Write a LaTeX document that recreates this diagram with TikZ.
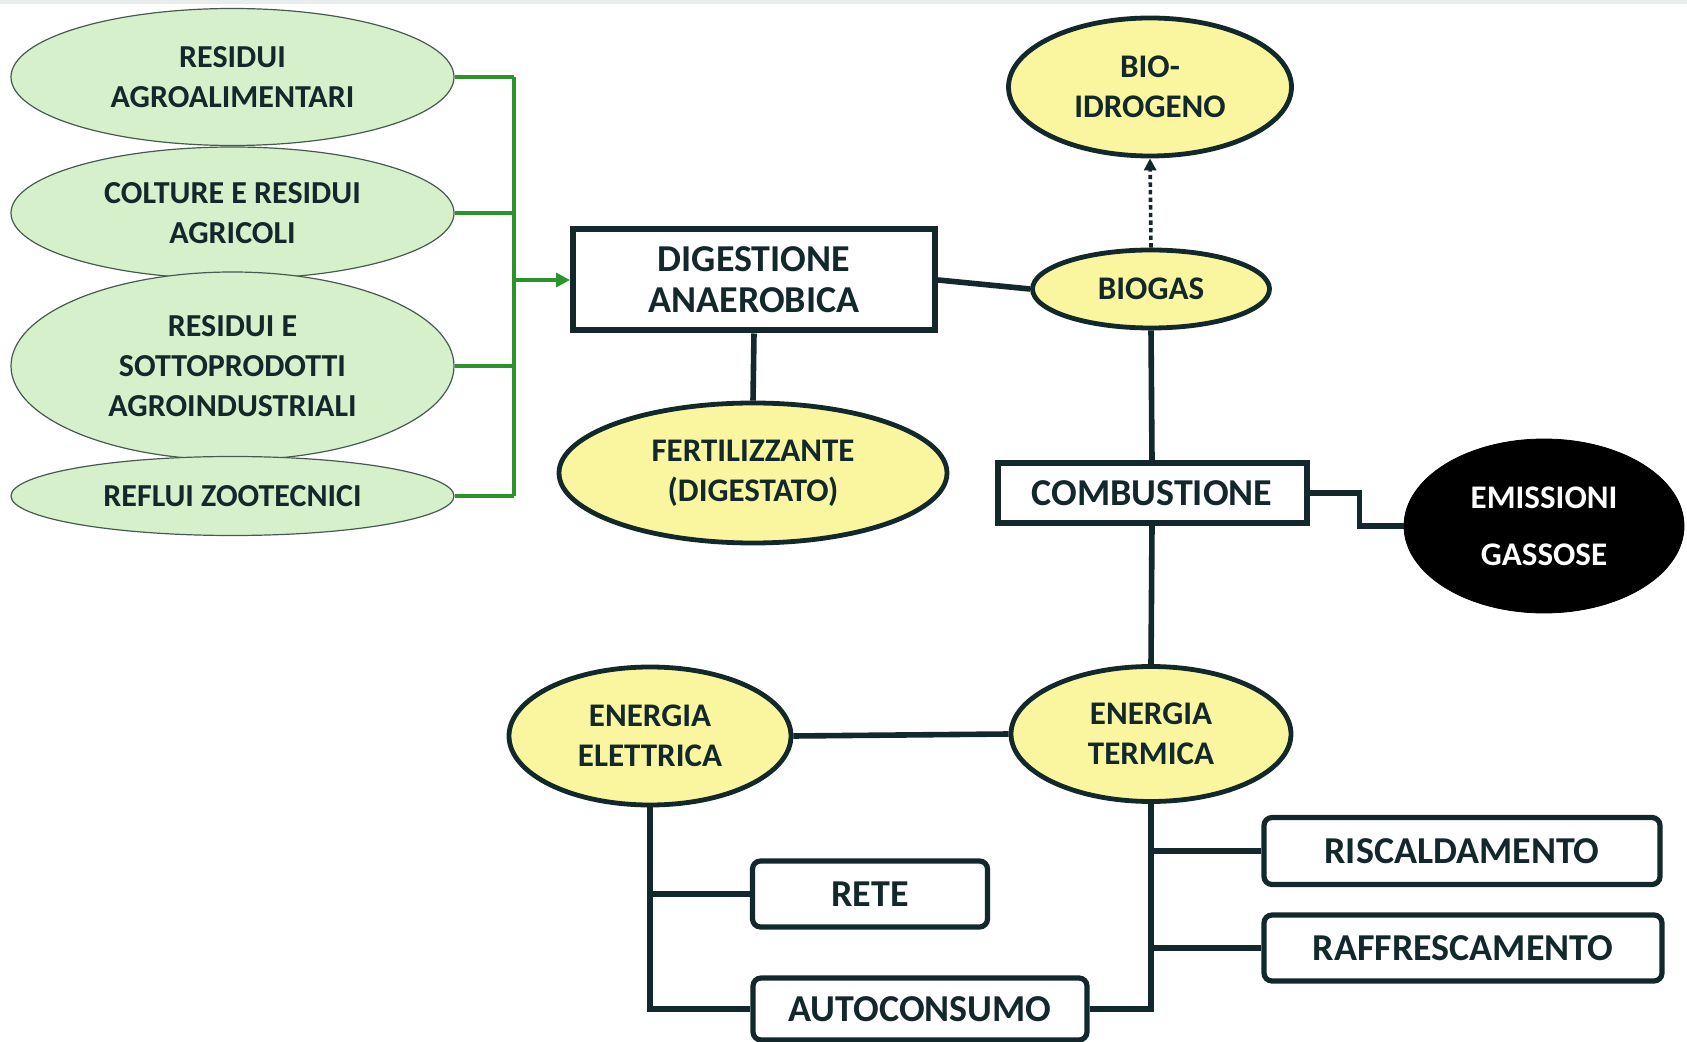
\documentclass[tikz,border=0pt]{standalone}
\usepackage{fontspec}
\setmainfont{Carlito}
\usetikzlibrary{shapes.geometric,arrows.meta}
\definecolor{ink}{RGB}{18,40,42}
\definecolor{yel}{RGB}{250,246,160}
\definecolor{lgreen}{RGB}{214,240,204}
\definecolor{gline}{RGB}{42,150,42}
\definecolor{gedge}{RGB}{70,90,80}
\definecolor{topband}{RGB}{232,236,236}
\begin{document}
\begin{tikzpicture}[x=0.5pt,y=-0.5pt,
  text=ink,
  gell/.style={ellipse, draw=gedge, line width=0.6pt, fill=lgreen, inner sep=0pt, align=center, font=\fontsize{16}{20}\selectfont\bfseries},
  yell/.style={ellipse, draw=ink, line width=2.4pt, fill=yel, inner sep=0pt, align=center, font=\fontsize{16.5}{20}\selectfont\bfseries},
  sqbox/.style={rectangle, draw=ink, line width=3pt, fill=white, inner sep=0pt, align=center, font=\fontsize{19}{20.5}\selectfont\bfseries},
  rbox/.style={rectangle, rounded corners=4pt, draw=ink, line width=2.6pt, fill=white, inner sep=0pt, font=\fontsize{19}{20}\selectfont\bfseries},
  conn/.style={draw=ink, line width=2.8pt},
  gconn/.style={draw=gline, line width=1.9pt},
]
\useasboundingbox (0,0) rectangle (1687,1042);
\fill[topband] (0,0) rectangle (1687,4);

% green source ellipses
\node[gell, minimum width=221.5pt, minimum height=68.5pt] (g1) at (232.5,77) {RESIDUI\\AGROALIMENTARI};
\node[gell, minimum width=221.5pt, minimum height=66pt] (g2) at (232.5,213) {COLTURE E RESIDUI\\AGRICOLI};
\node[gell, minimum width=221.5pt, minimum height=94pt] (g3) at (232.5,366) {RESIDUI E\\SOTTOPRODOTTI\\AGROINDUSTRIALI};
\node[gell, minimum width=221.5pt, minimum height=39.5pt] (g4) at (232.5,496) {REFLUI ZOOTECNICI};

% main nodes
\node[sqbox, minimum width=181pt, minimum height=50.5pt] (dig) at (754,280) {DIGESTIONE\\ANAEROBICA};
\node[yell, minimum width=194pt, minimum height=70pt] (fert) at (753,473) {FERTILIZZANTE\\(DIGESTATO)};
\node[yell, minimum width=118.5pt, minimum height=39pt] (bio) at (1151,289) {BIOGAS};
\node[yell, minimum width=141.5pt, minimum height=69pt] (h2) at (1150,87) {BIO-\\IDROGENO};
\node[sqbox, minimum width=154.5pt, minimum height=30pt] (comb) at (1152,493) {COMBUSTIONE};
\node[ellipse, draw=black, fill=black, text=white, inner sep=0pt, align=center,
      minimum width=140pt, minimum height=87pt, font=\fontsize{16.5}{28.5}\selectfont\bfseries] (emi) at (1544,526) {EMISSIONI\\GASSOSE};
\node[yell, minimum width=140pt, minimum height=67.5pt] (term) at (1151,734) {ENERGIA\\TERMICA};
\node[yell, minimum width=141pt, minimum height=69pt] (elet) at (650,736) {ENERGIA\\ELETTRICA};
\node[rbox, minimum width=117.5pt, minimum height=33pt] (rete) at (870,894) {RETE};
\node[rbox, minimum width=167pt, minimum height=31pt] (auto) at (920,1009) {AUTOCONSUMO};
\node[rbox, minimum width=198pt, minimum height=33.5pt] (risc) at (1462,851) {RISCALDAMENTO};
\node[rbox, minimum width=199pt, minimum height=33pt] (raff) at (1463,948) {RAFFRESCAMENTO};

% green bus
\coordinate (busx) at (514,0);
\draw[gconn] (g1.east) -- (g1.east -| busx);
\draw[gconn] (g2.east) -- (g2.east -| busx);
\draw[gconn] (g3.east) -- (g3.east -| busx);
\draw[gconn] (g4.east) -- (g4.east -| busx);
\draw[gconn] (g1.east -| busx) -- (g4.east -| busx);
\draw[gconn, -{Triangle[length=7pt,width=7pt]}] (dig.west -| busx) -- (dig.west);

% dark connectors
\draw[conn] (dig.east) -- (bio.west);
\draw[conn] (dig.south) -- (fert.north);
\draw[ink, line width=1.8pt, dash pattern=on 2.2pt off 1.6pt, -{Triangle[length=6pt,width=6pt]}] (bio.north) -- (h2.south);
\draw[conn] (bio.south) -- (comb.north);
\draw[conn] (comb.south) -- (term.north);
\draw[conn] (comb.east) -- ++(50,0) |- (emi.west);
\draw[conn] (elet.east) -- (term.west);
\draw[conn] (elet.south) |- (auto.west);
\draw[conn] (elet.south |- rete.west) -- (rete.west);
\draw[conn] (term.south) |- (auto.east);
\draw[conn] (term.south |- risc.west) -- (risc.west);
\draw[conn] (term.south |- raff.west) -- (raff.west);
\end{tikzpicture}
\end{document}
